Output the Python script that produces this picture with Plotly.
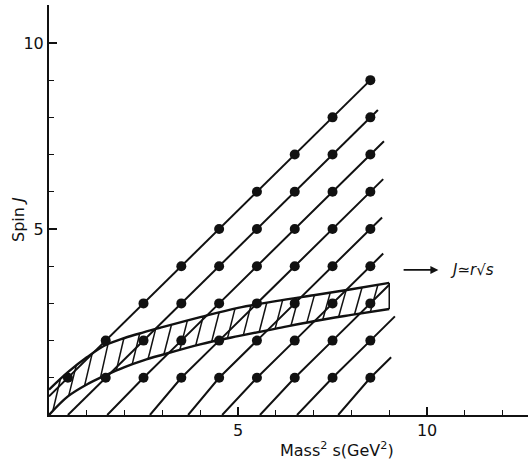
import numpy as np
import plotly.graph_objects as go

# ---------------- data ----------------
# Regge trajectories: J = s + offset ; start point and end point
traj_offset = [0.5, -0.5, -1.5, -2.5, -3.5, -4.5, -5.5, -6.5, -7.5]
traj_start_s = [0.0, 0.5, 1.54, 2.67, 3.68, 4.58, 5.58, 6.56, 7.65]
traj_start_J = [0.5, 0.0, 0.0, 0.0, 0.0, 0.0, 0.0, 0.0, 0.0]
traj_end_s = [8.5, 8.7, 8.86, 8.84, 8.81, 8.84, 9.0, 9.15, 9.05]
traj_max_J = [9, 8, 7, 6, 5, 4, 3, 2, 1]   # highest state (dot) on each trajectory

# hatched band  J ~ r sqrt(s)
band_s = [0, 0.5, 1, 1.5, 2, 2.5, 3, 4, 5, 6, 7, 8, 9]
band_upper = [0.68, 1.15, 1.55, 1.88, 2.07, 2.22, 2.36, 2.63, 2.88, 3.06, 3.22, 3.38, 3.55]
band_lower = [0.0, 0.5, 0.82, 1.07, 1.29, 1.47, 1.62, 1.9, 2.12, 2.32, 2.52, 2.69, 2.85]

x_tick_vals = [5, 10]
y_tick_vals = [5, 10]

# ---------------- figure ----------------
fig = go.Figure()
LW = 2.0
black = "#111111"

# hatch lines inside band
hx, hy = [], []
for sb in np.arange(0.1, 8.85, 0.42):
    st = min(sb + 0.2, 9.0)
    hx += [sb, st, None]
    hy += [float(np.interp(sb, band_s, band_lower)), float(np.interp(st, band_s, band_upper)), None]
fig.add_trace(go.Scatter(x=hx, y=hy, mode="lines", line=dict(color=black, width=1.5),
                         hoverinfo="skip", showlegend=False))
# right end of band
fig.add_trace(go.Scatter(x=[band_s[-1], band_s[-1]], y=[band_lower[-1], band_upper[-1]], mode="lines",
                         line=dict(color=black, width=1.5), showlegend=False, hoverinfo="skip"))
# band edges
fig.add_trace(go.Scatter(x=band_s, y=band_upper, mode="lines", line=dict(color=black, width=2.4, shape="spline"),
                         showlegend=False, hoverinfo="skip"))
fig.add_trace(go.Scatter(x=band_s, y=band_lower, mode="lines", line=dict(color=black, width=2.4, shape="spline"),
                         showlegend=False, hoverinfo="skip"))

# trajectories and dots
dot_x, dot_y = [], []
for off, s0, j0, s1, jm in zip(traj_offset, traj_start_s, traj_start_J, traj_end_s, traj_max_J):
    js = list(range(1, jm + 1))
    ss = [j - off for j in js]
    dot_x += ss
    dot_y += js
    lx = [s0] + ss + [s1]
    ly = [j0] + js + [s1 + off]
    fig.add_trace(go.Scatter(x=lx, y=ly, mode="lines", line=dict(color=black, width=LW),
                             showlegend=False, hoverinfo="skip"))
fig.add_trace(go.Scatter(x=dot_x, y=dot_y, mode="markers", marker=dict(color=black, size=10),
                         showlegend=False, hoverinfo="skip"))

font = "DejaVu Sans"
fig.update_layout(
    width=528, height=462,
    margin=dict(l=49, r=0, t=5, b=47),
    paper_bgcolor="white", plot_bgcolor="white",
    font=dict(family=font, size=16, color=black),
    xaxis=dict(range=[0, 12.67], showgrid=False, zeroline=False, showline=True, linecolor=black,
               linewidth=2, ticks="inside", ticklen=8, tickwidth=1.5, tickcolor=black,
               tickvals=x_tick_vals, ticktext=[str(v) for v in x_tick_vals],
               minor=dict(dtick=1, tick0=0, ticks="inside", ticklen=5, tickwidth=1.2, tickcolor=black)),
    yaxis=dict(range=[0, 11.02], showgrid=False, zeroline=False, showline=True, linecolor=black,
               linewidth=2, ticks="inside", ticklen=8, tickwidth=1.5, tickcolor=black,
               tickvals=y_tick_vals, ticktext=[str(v) for v in y_tick_vals],
               minor=dict(dtick=1, tick0=0, ticks="inside", ticklen=5, tickwidth=1.2, tickcolor=black)),
)

# axis titles (paper coords; plot area spans x 49..528 px, y 5..415 px)
fig.add_annotation(x=(337 - 49) / 479, y=(415 - 449) / 410, xref="paper", yref="paper",
                   xanchor="center", yanchor="middle",
                   text="Mass<sup>2</sup> s(GeV<sup>2</sup>)", showarrow=False, font=dict(size=16))
fig.add_annotation(x=(18 - 49) / 479, y=(415 - 220) / 410, xref="paper", yref="paper",
                   xanchor="center", yanchor="middle",
                   text="Spin <i>J</i>", textangle=-90, showarrow=False, font=dict(size=16))
# arrow and label
fig.add_annotation(x=10.3, y=3.9, ax=9.34, ay=3.9, xref="x", yref="y", axref="x", ayref="y",
                   showarrow=True, arrowhead=2, arrowsize=1, arrowwidth=1.6, arrowcolor=black, text="")
fig.add_annotation(x=10.55, y=3.9, xref="x", yref="y", xanchor="left", text="<i>J≃r√s</i>",
                   showarrow=False, font=dict(size=15))

fig.write_html("out.html")
